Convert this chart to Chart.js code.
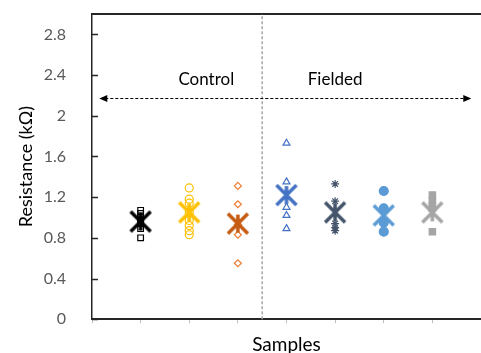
<!DOCTYPE html>
<html>
<head>
<meta charset="utf-8">
<script src="https://cdn.jsdelivr.net/npm/chart.js@4/dist/chart.umd.min.js"></script>
<style>
  body { margin: 0; background: #fff; }
  #chart { display: block; }
</style>
</head>
<body>
<canvas id="chart" width="481" height="353"></canvas>
<script>
// sample positions on the x axis (3 control + 4 fielded)
var samples = ["C1", "C2", "C3", "F1", "F2", "F3", "F4"];
var samplePos = [1, 2, 3, 4, 5, 6, 7];

// individual readings (kOhm)
var blackSquares = [1.07, 1.04, 1.00, 0.97, 0.94, 0.89, 0.80];
var yellowCircles = [1.29, 1.18, 1.14, 1.05, 0.97, 0.92, 0.87, 0.83];
var orangeDiamonds = [1.31, 1.13, 0.93, 0.83, 0.55];
var blueTriangles = [1.73, 1.35, 1.10, 1.02, 0.89];
var navyStars = [1.33, 1.16, 0.94, 0.90, 0.87];
var lightCircles = [1.26, 1.09, 0.95, 0.86];
var graySquares = [1.22, 1.17, 1.12, 1.09, 0.86];

// mean of each sample (big X)
var means = [0.96, 1.05, 0.94, 1.22, 1.05, 1.02, 1.05];

var yTicks = [0, 0.4, 0.8, 1.2, 1.6, 2, 2.4, 2.8];
var dividerX = 3.5;
var arrowY = 2.17;
var arrowFrom = 0.15, arrowTo = 7.8;
var groupLabels = [{text: "Control", x: 2.35, y: 2.36}, {text: "Fielded", x: 5.0, y: 2.36}];

var font = "Lato";
var meanColors = ["#000000", "#FFC000", "#C55A11", "#4472C4", "#44546A", "#5B9BD5", "#A5A5A5"];

// big asterisk marker: X plus vertical stroke
function meanMarker(color) {
  var c = document.createElement("canvas");
  c.width = 24; c.height = 24;
  var g = c.getContext("2d");
  g.strokeStyle = color;
  g.lineWidth = 3.5;
  g.beginPath();
  g.moveTo(2, 2); g.lineTo(22, 22);
  g.moveTo(22, 2); g.lineTo(2, 22);
  g.moveTo(12, 3); g.lineTo(12, 21);
  g.stroke();
  return c;
}

function pts(i, vals) {
  return vals.map(v => ({x: samplePos[i], y: v}));
}

var groups = [
  {vals: blackSquares, style: "rect", color: "#000000", fill: "transparent", r: 4},
  {vals: yellowCircles, style: "circle", color: "#FFC000", fill: "transparent", r: 4},
  {vals: orangeDiamonds, style: "rectRot", color: "#ED7D31", fill: "transparent", r: 3.5},
  {vals: blueTriangles, style: "triangle", color: "#4472C4", fill: "transparent", r: 4},
  {vals: navyStars, style: "star", color: "#44546A", fill: "transparent", r: 4},
  {vals: lightCircles, style: "circle", color: "#5B9BD5", fill: "#5B9BD5", r: 4.5},
  {vals: graySquares, style: "rect", color: "#A5A5A5", fill: "#A5A5A5", r: 4.5}
];

var datasets = [];
groups.forEach(function(gr, i) {
  // filled markers sit over the mean, hollow ones under it
  var onTop = gr.fill !== "transparent";
  datasets.push({
    label: samples[i],
    data: pts(i, gr.vals),
    pointStyle: gr.style,
    pointRadius: gr.r,
    borderColor: gr.color,
    backgroundColor: gr.fill,
    pointBorderWidth: 1.2,
    showLine: false,
    order: onTop ? 0 : 2
  });
  datasets.push({
    label: samples[i] + " mean",
    data: [{x: samplePos[i], y: means[i]}],
    pointStyle: meanMarker(meanColors[i]),
    showLine: false,
    order: 1
  });
});

// inward y ticks, top border, divider, arrow, group labels
var extras = {
  id: "extras",
  afterDraw: function(chart) {
    var ctx = chart.ctx, xs = chart.scales.x, ys = chart.scales.y, a = chart.chartArea;
    ctx.save();
    ctx.strokeStyle = "#262626";
    ctx.lineWidth = 1.5;
    ctx.beginPath();
    yTicks.forEach(function(t) {
      var py = Math.round(ys.getPixelForValue(t)) + 0.5;
      ctx.moveTo(a.left, py); ctx.lineTo(a.left + 6, py);
    });
    ctx.stroke();
    ctx.lineWidth = 2;
    ctx.beginPath();
    ctx.moveTo(a.left - 1, a.top); ctx.lineTo(a.right, a.top);
    ctx.stroke();

    // divider
    var dx = xs.getPixelForValue(dividerX);
    ctx.strokeStyle = "#A6A6A6";
    ctx.lineWidth = 1.5;
    ctx.setLineDash([3, 2]);
    ctx.beginPath();
    ctx.moveTo(dx, a.bottom); ctx.lineTo(dx, a.top);
    ctx.stroke();

    // arrow
    var ay = Math.round(ys.getPixelForValue(arrowY)) + 0.5;
    var x1 = xs.getPixelForValue(arrowFrom), x2 = xs.getPixelForValue(arrowTo);
    ctx.strokeStyle = "#000";
    ctx.lineWidth = 1;
    ctx.beginPath();
    ctx.moveTo(x1 + 6, ay); ctx.lineTo(x2 - 6, ay);
    ctx.stroke();
    ctx.setLineDash([]);
    ctx.fillStyle = "#000";
    ctx.beginPath();
    ctx.moveTo(x1, ay); ctx.lineTo(x1 + 8, ay - 3.5); ctx.lineTo(x1 + 8, ay + 3.5); ctx.closePath();
    ctx.moveTo(x2, ay); ctx.lineTo(x2 - 8, ay - 3.5); ctx.lineTo(x2 - 8, ay + 3.5); ctx.closePath();
    ctx.fill();

    ctx.font = "17px " + font;
    ctx.fillStyle = "#000";
    ctx.textAlign = "center";
    ctx.textBaseline = "middle";
    groupLabels.forEach(function(l) {
      ctx.fillText(l.text, xs.getPixelForValue(l.x), ys.getPixelForValue(l.y));
    });
    ctx.restore();
  }
};

new Chart("chart", {
  type: "scatter",
  data: { datasets: datasets },
  plugins: [extras],
  options: {
    responsive: false,
    animation: false,
    devicePixelRatio: 1,
    layout: { autoPadding: false, padding: { top: 14, right: 0, bottom: 0, left: 0 } },
    plugins: {
      legend: { display: false },
      tooltip: { enabled: false }
    },
    scales: {
      x: {
        type: "linear",
        min: 0,
        max: 8,
        ticks: { display: false, stepSize: 1 },
        grid: { drawOnChartArea: false, drawTicks: true, tickLength: 4, color: "#BFBFBF" },
        border: { color: "#262626", width: 2 },
        title: {
          display: true,
          text: "Samples",
          color: "#000",
          font: { family: font, size: 19 },
          padding: { top: 10, bottom: -3 }
        }
      },
      y: {
        min: 0,
        max: 3,
        afterBuildTicks: function(scale) {
          scale.ticks = yTicks.map(v => ({ value: v }));
        },
        afterFit: function(scale) {
          scale.width = 92;
          scale.paddingTop = 0;
          scale.paddingBottom = 0;
        },
        ticks: {
          color: "#595959",
          padding: 18,
          font: { family: font, size: 16 },
          callback: function(v) { return String(parseFloat(v.toFixed(1))); }
        },
        grid: { display: false },
        border: { color: "#262626", width: 1.5 },
        title: {
          display: true,
          text: "Resistance (kΩ)",
          color: "#000",
          font: { family: font, size: 18 },
          padding: { top: 15, bottom: 0 }
        }
      }
    }
  }
});
</script>
</body>
</html>
